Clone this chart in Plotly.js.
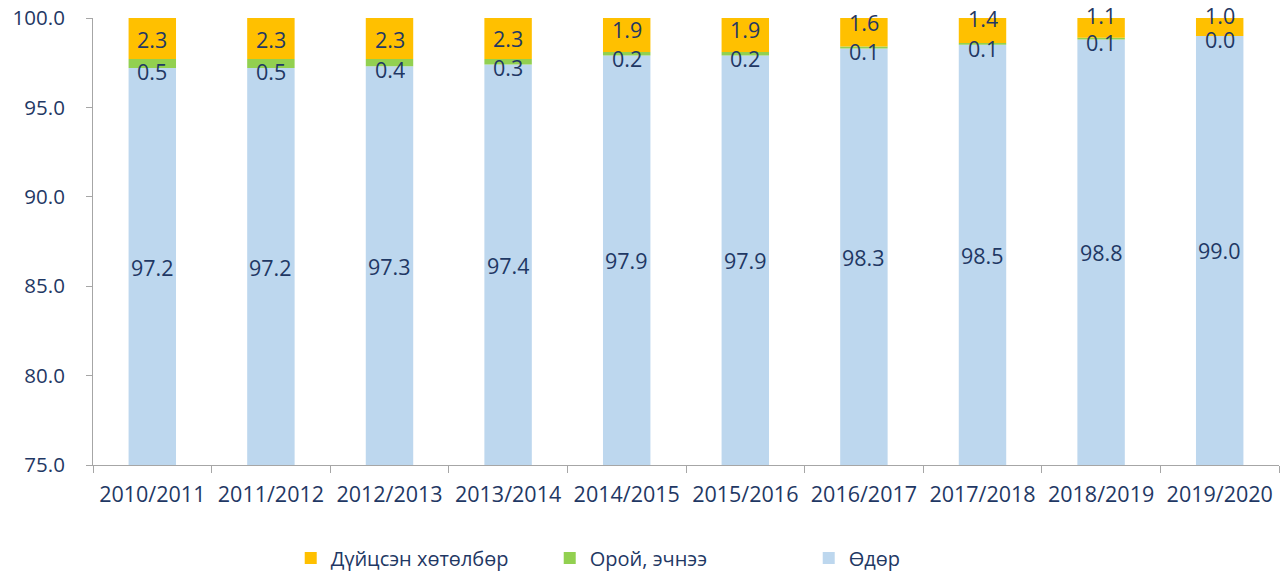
<!DOCTYPE html>
<html>
<head>
<meta charset="utf-8">
<script src="https://cdn.plot.ly/plotly-3.0.1.min.js"></script>
<style>html,body{margin:0;padding:0;background:#fff;}#chart{width:1283px;height:573px;}</style>
</head>
<body>
<div id="chart"></div>
<script>
const years = ['2010/2011','2011/2012','2012/2013','2013/2014','2014/2015','2015/2016','2016/2017','2017/2018','2018/2019','2019/2020'];
const dayValues = [97.2, 97.2, 97.3, 97.4, 97.9, 97.9, 98.3, 98.5, 98.8, 99.0];
const eveningValues = [0.5, 0.5, 0.4, 0.3, 0.2, 0.2, 0.1, 0.1, 0.1, 0.0];
const equivValues = [2.3, 2.3, 2.3, 2.3, 1.9, 1.9, 1.6, 1.4, 1.1, 1.0];
const seriesNames = ['Өдөр', 'Орой, эчнээ', 'Дүйцсэн хөтөлбөр'];

const axisMin = 75;
const axisMax = 100;
const plotHeightPx = 447;
const maxLabelShiftPx = 3;
const navy = '#1F3864';
const fontFam = '"Open Sans", "Noto Sans", sans-serif';
const colors = {day: '#BDD7EE', evening: '#92D050', equiv: '#FFC000'};

const dayBase = dayValues.map(() => axisMin);
const dayHeight = dayValues.map(v => v - axisMin);
const eveBase = dayValues.slice();
const equivBase = dayValues.map((v, i) => v + eveningValues[i]);

// label placements (Excel-style nudging of small segment labels)
const dayLabelY = dayValues.map(v => (axisMin + v) / 2);
const eveLabelY = dayValues.map(v => v - 0.15);
const equivLabelY = equivValues.map((v, i) => Math.max(equivBase[i] + v / 2, eveLabelY[i] + 1.65));

const fmt = v => v.toFixed(1);
const barCommon = {type: 'bar', x: years, width: 0.4, hoverinfo: 'x+name'};

const data = [
  Object.assign({}, barCommon, {name: seriesNames[0], y: dayHeight, base: dayBase, marker: {color: colors.day}}),
  Object.assign({}, barCommon, {name: seriesNames[1], y: eveningValues, base: eveBase, marker: {color: colors.evening}}),
  Object.assign({}, barCommon, {name: seriesNames[2], y: equivValues, base: equivBase, marker: {color: colors.equiv}})
];

const pxPerUnit = plotHeightPx / (axisMax - axisMin);
const annotations = [];
const labelSets = [[dayLabelY, dayValues], [eveLabelY, eveningValues], [equivLabelY, equivValues]];
labelSets.forEach(([ys, vals]) => {
  years.forEach((yr, i) => {
    const yy = ys[i];
    annotations.push({x: yr, y: Math.min(yy, axisMax),
      yshift: Math.min(maxLabelShiftPx, Math.max(0, yy - axisMax) * pxPerUnit),
      xref: 'x', yref: 'y', text: fmt(vals[i]), showarrow: false, borderpad: 0, height: 22,
      xanchor: 'center', yanchor: 'middle', font: {family: fontFam, size: 21.5, color: navy}});
  });
});

const layout = {
  width: 1283, height: 573,
  margin: {l: 93, r: 4, t: 18, b: 108, pad: 0},
  paper_bgcolor: '#fff', plot_bgcolor: '#fff',
  barmode: 'overlay',
  font: {family: fontFam, size: 20, color: navy},
  showlegend: true,
  annotations: annotations,
  legend: {orientation: 'h', traceorder: 'reversed', xref: 'container', yref: 'container',
    x: 0.2266, xanchor: 'left', y: 0.026, yanchor: 'middle',
    font: {family: fontFam, size: 20, color: navy}, entrywidth: 214, entrywidthmode: 'pixels', itemclick: false},
  xaxis: {type: 'category', showline: true, linecolor: '#A6A6A6', linewidth: 1, ticks: 'outside', tickson: 'boundaries',
    ticklen: 7, tickcolor: '#A6A6A6', showgrid: false, zeroline: false, ticklabelstandoff: 10,
    tickfont: {family: fontFam, size: 21.5, color: navy}},
  yaxis: {range: [axisMin, axisMax], dtick: 5, tick0: 75, tickformat: '.1f', showline: true, linecolor: '#A6A6A6',
    ticks: 'outside', ticklen: 6, tickcolor: '#A6A6A6', showgrid: false, zeroline: false, ticklabelstandoff: 17,
    tickfont: {family: fontFam, size: 20.5, color: navy}}
};

Plotly.newPlot('chart', data, layout, {displayModeBar: false, staticPlot: true});
</script>
</body>
</html>
